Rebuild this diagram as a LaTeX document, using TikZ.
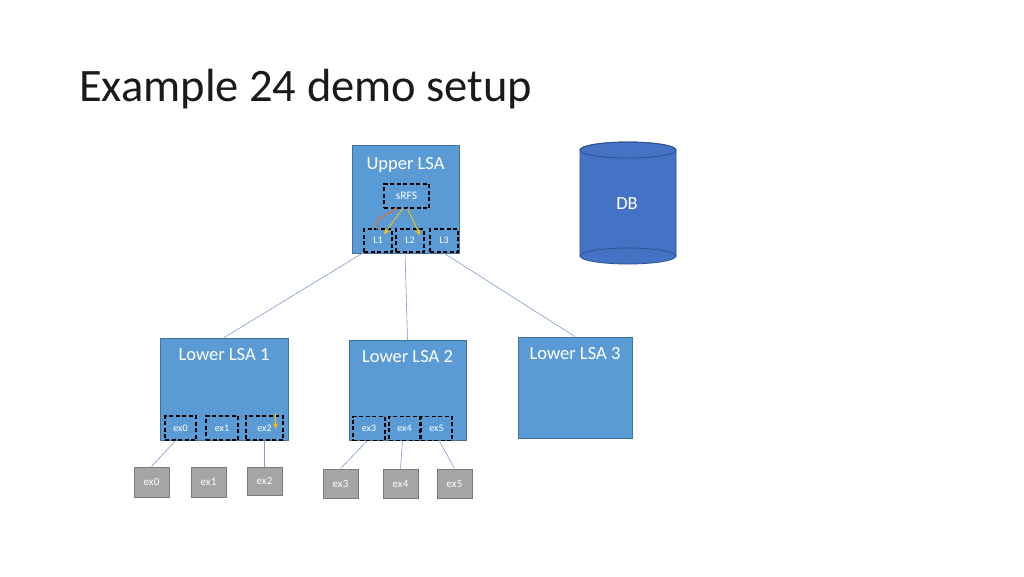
\documentclass[tikz,border=0pt]{standalone}
\usepackage{fontspec}
\setmainfont{Carlito}
\usetikzlibrary{arrows.meta}
\definecolor{lsablue}{HTML}{5B9BD5}
\definecolor{lsaedge}{HTML}{41719C}
\definecolor{dbblue}{HTML}{4472C4}
\definecolor{dbedge}{HTML}{2F528F}
\definecolor{exgray}{HTML}{A5A5A5}
\definecolor{exedge}{HTML}{7B7B7B}
\definecolor{conn}{HTML}{7F9CD0}
\definecolor{titlegray}{HTML}{1A1A1A}
\definecolor{arrowyellow}{HTML}{FFC000}
\definecolor{arroworange}{HTML}{C5784A}
\begin{document}
\begin{tikzpicture}[x=1pt,y=-1pt,
  lsa/.style={draw=lsaedge,fill=lsablue,line width=0.8pt,inner sep=0pt},
  lsatext/.style={text=white,font=\fontsize{18.5}{20}\selectfont},
  dbox/.style={draw=black,dashed,dash pattern=on 4pt off 2.5pt,line width=1.2pt,inner sep=0pt,text=white,font=\fontsize{10}{11}\selectfont},
  exbox/.style={draw=exedge,fill=exgray,line width=1pt,inner sep=0pt,text=white,font=\fontsize{11}{12}\selectfont},
  link/.style={draw=conn,line width=0.6pt},
  yarrow/.style={draw=arrowyellow,line width=0.9pt,-{Stealth[length=6pt,width=5pt]}}
]
\useasboundingbox (0,0) rectangle (1024,576);
\fill[white] (0,0) rectangle (1024,576);

% title
\node[anchor=base west,inner sep=0pt,text=titlegray,font=\fontsize{46.5}{50}\selectfont] (title) at (79,101) {Example 24 demo setup};

% upper LSA
\node[lsa,minimum width=107pt,minimum height=108pt] (upper) at (405.5,199) {};
\node[lsatext] (uppert) at (405.5,165) {Upper LSA};
\node[dbox,minimum width=45pt,minimum height=24pt,font=\fontsize{11.5}{12}\selectfont] (srfs) at (406.5,196) {sRFS};
\node[dbox,minimum width=28pt,minimum height=23pt] (L1) at (378,240.5) {L1};
\node[dbox,minimum width=28pt,minimum height=23pt] (L2) at (410,240.5) {L2};
\node[dbox,minimum width=28pt,minimum height=23pt] (L3) at (444,240.5) {L3};
\draw[draw=arroworange,line width=1.3pt,-{Circle[length=3pt]}] ([xshift=-1pt,yshift=-1pt]L1.north) to[out=115,in=210] ([xshift=-10pt]srfs.south);
\draw[yarrow] ([xshift=-4pt]srfs.south) -- ([xshift=6pt,yshift=-6pt]L1.north);
\draw[yarrow] ([xshift=1pt]srfs.south) -- ([xshift=10pt,yshift=-7pt]L2.north);

% lower LSAs
\node[lsa,minimum width=128pt,minimum height=102pt] (low1) at (224,389) {};
\node[lsatext] (low1t) at (224,355) {Lower LSA 1};
\node[lsa,minimum width=117pt,minimum height=100pt] (low2) at (407.5,390) {};
\node[lsatext] (low2t) at (407.5,357) {Lower LSA 2};
\node[lsa,minimum width=114pt,minimum height=101pt] (low3) at (575,387.5) {};
\node[lsatext] (low3t) at (575,354) {Lower LSA 3};

% dashed ex boxes
\node[dbox,minimum width=31pt,minimum height=24pt] (d0) at (180.5,428) {ex0};
\node[dbox,minimum width=32pt,minimum height=24pt] (d1) at (222,428) {ex1};
\node[dbox,minimum width=37pt,minimum height=24pt] (d2) at (264.5,428) {ex2};
\node[dbox,minimum width=32pt,minimum height=24pt] (d3) at (369,428.5) {ex3};
\node[dbox,minimum width=31pt,minimum height=24pt] (d4) at (404.5,428.5) {ex4};
\node[dbox,minimum width=31pt,minimum height=24pt] (d5) at (436.5,428.5) {ex5};
\coordinate (ytop) at (275.5,413);
\draw[yarrow] (ytop) -- ([xshift=11pt,yshift=-1pt]d2.center);

% gray ex boxes
\node[exbox,minimum width=35pt,minimum height=30pt] (g0) at (151.5,482) {ex0};
\node[exbox,minimum width=35pt,minimum height=30pt] (g1) at (208.5,482) {ex1};
\node[exbox,minimum width=35pt,minimum height=28pt] (g2) at (264.5,481) {ex2};
\node[exbox,minimum width=35pt,minimum height=29pt] (g3) at (340.5,483.5) {ex3};
\node[exbox,minimum width=35pt,minimum height=29pt] (g4) at (400.5,483.5) {ex4};
\node[exbox,minimum width=35pt,minimum height=29pt] (g5) at (454.5,483.5) {ex5};

% connectors
\draw[link] (L1.south west) -- (low1.north);
\draw[link] ([xshift=-5pt]L2.south) -- (low2.north);
\draw[link] ([xshift=-1pt]L3.south) -- (low3.north);
\draw[link] ([xshift=-5pt]d0.south) -- (g0.north);
\draw[link] (d2.south) -- (g2.north);
\draw[link] ([xshift=-2pt]d3.south) -- (g3.north);
\draw[link] ([xshift=-2pt]d4.south) -- (g4.north);
\draw[link] ([xshift=3pt]d5.south) -- (g5.north);

% DB cylinder
\filldraw[fill=dbblue,draw=dbedge,line width=0.8pt]
  (580,150) -- (580,256) arc[start angle=180,end angle=360,x radius=48,y radius=-8]
  -- (676,150) arc[start angle=0,end angle=180,x radius=48,y radius=-8] -- cycle;
\draw[draw=dbedge,line width=0.8pt] (628,150) ellipse[x radius=48,y radius=8];
\draw[draw=dbedge,line width=0.8pt] (580,256) arc[start angle=180,end angle=0,x radius=48,y radius=-8];
\node[lsatext] (db) at (627,204) {DB};
\end{tikzpicture}
\end{document}
